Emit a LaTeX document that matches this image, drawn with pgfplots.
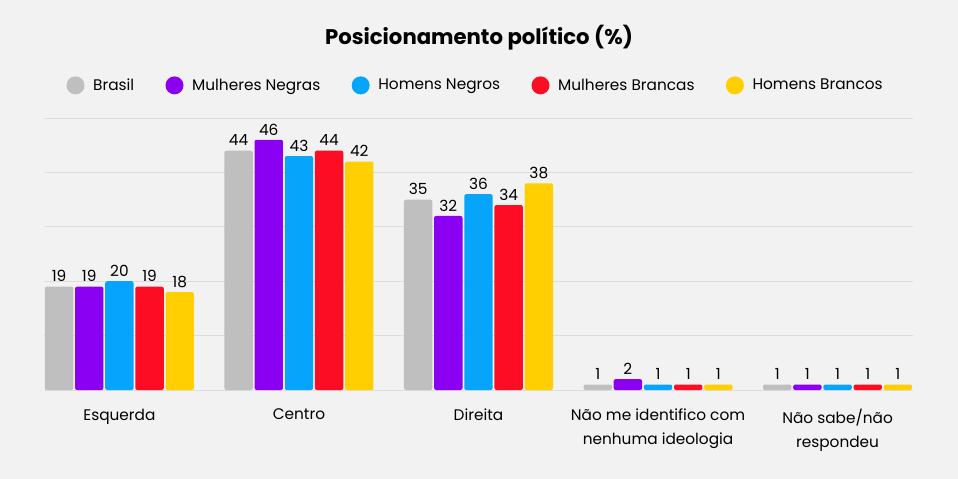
\documentclass[border=0pt]{standalone}
\usepackage{pgfplots}
\pgfplotsset{compat=1.18}
\usepackage{fontspec}
\setmainfont{Poppins}
\definecolor{bg}{HTML}{F2F2F2}
\definecolor{cgray}{HTML}{BFBFBF}
\definecolor{cpurple}{HTML}{8A00F2}
\definecolor{cblue}{HTML}{06A4FA}
\definecolor{cred}{HTML}{FD0D24}
\definecolor{cyellow}{HTML}{FFCF02}
\definecolor{gridc}{HTML}{DDDDDD}
\begin{document}
\begin{tikzpicture}[x=1pt,y=1pt]
\fill[bg] (0,0) rectangle (718.5,359.25);
\node[font=\bfseries\fontsize{15.9}{19}\selectfont] at (359.25,331) {Posicionamento político (\%)};
\begin{axis}[
  at={(33pt,66.75pt)}, anchor=south west, scale only axis,
  width=651.75pt, height=204pt,
  xmin=-0.42, xmax=4.42, ymin=0, ymax=50,
  ybar, bar width=0.158,
  every axis plot/.append style={draw=none, rounded corners=1.5pt,
    legend image code/.code={\fill[#1] (0pt,0pt) circle (6.75pt);}},
  /pgf/number format/assume math mode=true,
  xtick={0,1,2,3,4},
  xticklabels={Esquerda, Centro, Direita, {Não me identifico com\\nenhuma ideologia}, {Não sabe/não\\respondeu}},
  xticklabel style={align=center, font=\fontsize{11.5}{18}\selectfont, yshift=-10.5pt},
  ytick={0,10,...,50}, yticklabels={},
  ymajorgrids, grid style={gridc, line width=0.75pt},
  major tick length=0pt, axis line style={draw=none},
  nodes near coords,
  nodes near coords style={font=\fontsize{11.5}{14}\selectfont, text=black},
  legend columns=5,
  legend style={at={(0.497,1.12)}, anchor=center, draw=none, fill=none,
    font=\fontsize{11.5}{14}\selectfont,
    /tikz/every odd column/.append style={column sep=4.5pt},
    /tikz/every even column/.append style={column sep=21.5pt}},
]
\addplot[fill=cgray, bar shift=-0.336] coordinates {(0,19) (1,44) (2,35) (3,1) (4,1)};
\addplot[fill=cpurple, bar shift=-0.168] coordinates {(0,19) (1,46) (2,32) (3,2) (4,1)};
\addplot[fill=cblue, bar shift=0] coordinates {(0,20) (1,43) (2,36) (3,1) (4,1)};
\addplot[fill=cred, bar shift=0.168] coordinates {(0,19) (1,44) (2,34) (3,1) (4,1)};
\addplot[fill=cyellow, bar shift=0.336] coordinates {(0,18) (1,42) (2,38) (3,1) (4,1)};
\legend{Brasil, Mulheres Negras, Homens Negros, Mulheres Brancas, Homens Brancos}
\end{axis}
\end{tikzpicture}
\end{document}
